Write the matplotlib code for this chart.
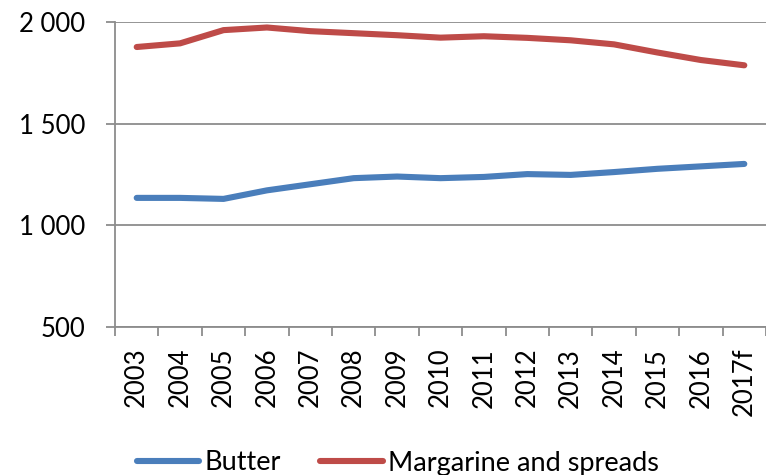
import numpy as np
import matplotlib.pyplot as plt
from matplotlib.ticker import FuncFormatter

years = ["2003", "2004", "2005", "2006", "2007", "2008", "2009", "2010",
         "2011", "2012", "2013", "2014", "2015", "2016", "2017f"]
butter = [1135, 1135, 1130, 1172, 1202, 1232, 1240, 1232, 1238, 1252,
          1248, 1262, 1278, 1290, 1302]
margarine = [1877, 1895, 1960, 1973, 1955, 1945, 1935, 1923, 1930, 1922,
             1910, 1890, 1850, 1813, 1787]

plt.rcParams['font.family'] = ['Lato', 'DejaVu Sans']

fig = plt.figure(figsize=(7.66, 4.75), dpi=100)
ax = fig.add_axes([115/766, 1-327/475, 1-115/766, (327-22)/475])

x = np.arange(len(years))
ax.plot(x, butter, color='#4a7ebb', lw=4.4, solid_capstyle='round', label='Butter')
ax.plot(x, margarine, color='#be4b48', lw=4.4, solid_capstyle='round', label='Margarine and spreads')

ax.set_ylim(500, 2000)
ax.set_xlim(-0.5, 14.32)
ax.set_yticks([500, 1000, 1500, 2000])
ax.yaxis.set_major_formatter(FuncFormatter(lambda v, p: f"{int(v):,}".replace(",", " ")))
ax.grid(axis='y', color='#8c8c8c', lw=1.3)
ax.set_axisbelow(True)

# category boundary ticks, labels centered
ax.set_xticks(np.arange(-0.5, 15, 1))
ax.set_xticklabels([])
ax.set_xticks(x, minor=True)
ax.set_xticklabels(years, minor=True, rotation=90, fontsize=18.5)
ax.tick_params(axis='x', which='minor', length=0, pad=15)
ax.tick_params(axis='x', which='major', length=6.5, color='#8c8c8c', width=1.3)
ax.tick_params(axis='y', length=6.5, color='#8c8c8c', width=1.3, labelsize=18.5, pad=15)

for s in ['top', 'right']:
    ax.spines[s].set_visible(False)
for s in ['left', 'bottom']:
    ax.spines[s].set_color('#8c8c8c')
    ax.spines[s].set_linewidth(1.3)

fig.legend(loc='center', bbox_to_anchor=(398/766, 1-463/475), ncol=2, frameon=False,
           fontsize=19.5, handlelength=2.3, handletextpad=0.2, columnspacing=1.45)

fig.savefig('out.png', dpi=100)
